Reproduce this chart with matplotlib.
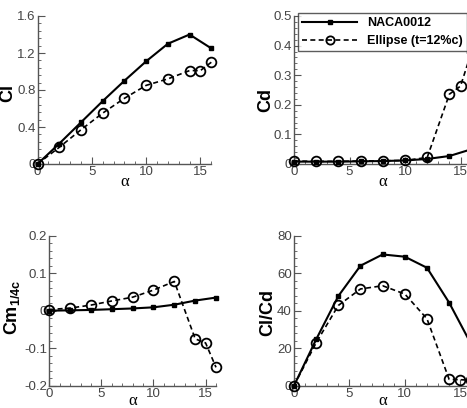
import matplotlib
matplotlib.use('Agg')
import matplotlib.pyplot as plt
from matplotlib.ticker import MultipleLocator, AutoMinorLocator, FormatStrFormatter

plt.rcParams['font.family'] = ['Liberation Sans', 'DejaVu Sans']
plt.rcParams['mathtext.default'] = 'regular'

# angle of attack
alpha_naca = [0, 2, 4, 6, 8, 10, 12, 14, 16]
alpha_ell = [0, 2, 4, 6, 8, 10, 12, 14, 15, 16]

# NACA0012
cl_naca = [0.0, 0.22, 0.45, 0.68, 0.90, 1.11, 1.30, 1.40, 1.25]
cd_naca = [0.008, 0.008, 0.008, 0.009, 0.010, 0.012, 0.017, 0.027, 0.050]
cm_naca = [0.0, 0.001, 0.002, 0.004, 0.006, 0.009, 0.016, 0.027, 0.035]
clcd_naca = [0.0, 24.7, 47.8, 64.0, 70.0, 68.8, 62.9, 44.3, 22.0]

# Ellipse (t=12%c)
cl_ell = [0.0, 0.18, 0.37, 0.55, 0.71, 0.85, 0.92, 1.01, 1.01, 1.10]
cd_ell = [0.010, 0.009, 0.009, 0.010, 0.011, 0.012, 0.022, 0.236, 0.263, 0.38]
cm_ell = [0.003, 0.007, 0.015, 0.026, 0.036, 0.055, 0.078, -0.075, -0.086, -0.151]
clcd_ell = [0.0, 22.9, 42.8, 51.6, 53.3, 48.9, 35.7, 3.4, 3.2, 2.9]

fig = plt.figure(figsize=(4.67, 4.08), dpi=100)

W, H = 467.0, 408.0
def box(x0, x1, ytop, ybot):
    return [x0 / W, 1 - ybot / H, (x1 - x0) / W, (ybot - ytop) / H]

panels = [
    # position, naca, ellipse, ylim, major step, ylabel, ylabel coords, xlabel pad
    (box(37.5, 211.3, 16, 164), cl_naca, cl_ell, (0, 1.6), 0.4, 'Cl', (-0.125, 0.48), -3),
    (box(294, 471.6, 16, 164), cd_naca, cd_ell, (0, 0.5), 0.1, 'Cd', (-0.11, 0.43), -3),
    (box(49.3, 216.0, 235.7, 385.7), cm_naca, cm_ell, (-0.2, 0.2), 0.1, 'Cm$_{1/4c}$', (-0.165, 0.52), -5),
    (box(294, 471.3, 235.7, 385.7), clcd_naca, clcd_ell, (0, 80), 20, 'Cl/Cd', (-0.10, 0.49), -5),
]

axes = []
for pos, yn, ye, ylim, step, ylab, lab_xy, xpad in panels:
    ax = fig.add_axes(pos)
    ax.plot(alpha_naca, yn, color='black', lw=1.5, marker='s', ms=3.5,
            mfc='black', mec='black', label='NACA0012', clip_on=False, zorder=3)
    ax.plot(alpha_ell, ye, color='black', lw=1.2, ls=(0, (3, 2)), marker='o', ms=7,
            mfc='none', mec='black', mew=1.3, label='Ellipse (t=12%c)', clip_on=False, zorder=3)
    ax.set_xlim(0, 16)
    ax.set_ylim(*ylim)
    ax.xaxis.set_major_locator(MultipleLocator(5))
    ax.xaxis.set_minor_locator(AutoMinorLocator(5))
    ax.yaxis.set_major_locator(MultipleLocator(step))
    ax.yaxis.set_minor_locator(AutoMinorLocator(5))
    ax.yaxis.set_major_formatter(FormatStrFormatter('%g'))
    ax.xaxis.set_major_formatter(FormatStrFormatter('%g'))
    for s in ['top', 'right']:
        ax.spines[s].set_visible(False)
    for s in ['left', 'bottom']:
        ax.spines[s].set_color('#555555')
        ax.spines[s].set_linewidth(1.0)
    ax.tick_params(which='both', direction='in', color='#555555', labelcolor='#444444',
                   labelsize=9.5, pad=1.5)
    ax.tick_params(which='major', length=5)
    ax.tick_params(which='minor', length=2.5)
    ax.set_xlabel('α', family='Liberation Serif', fontsize=12, labelpad=xpad)
    ax.set_ylabel(ylab, fontsize=13, fontweight='bold')
    ax.yaxis.set_label_coords(*lab_xy)
    axes.append(ax)

leg = axes[1].legend(loc='upper left', bbox_to_anchor=(0.022, 1.02), frameon=True,
                     fancybox=False, edgecolor='#333333', handlelength=4.4,
                     prop={'weight': 'bold', 'size': 9}, borderpad=0.35,
                     labelspacing=0.45, handletextpad=0.8, borderaxespad=0)
leg.get_frame().set_linewidth(1.0)
for h in leg.legend_handles:
    h.set_markersize(h.get_markersize() * 0.85)

fig.savefig('out.png', dpi=100)
